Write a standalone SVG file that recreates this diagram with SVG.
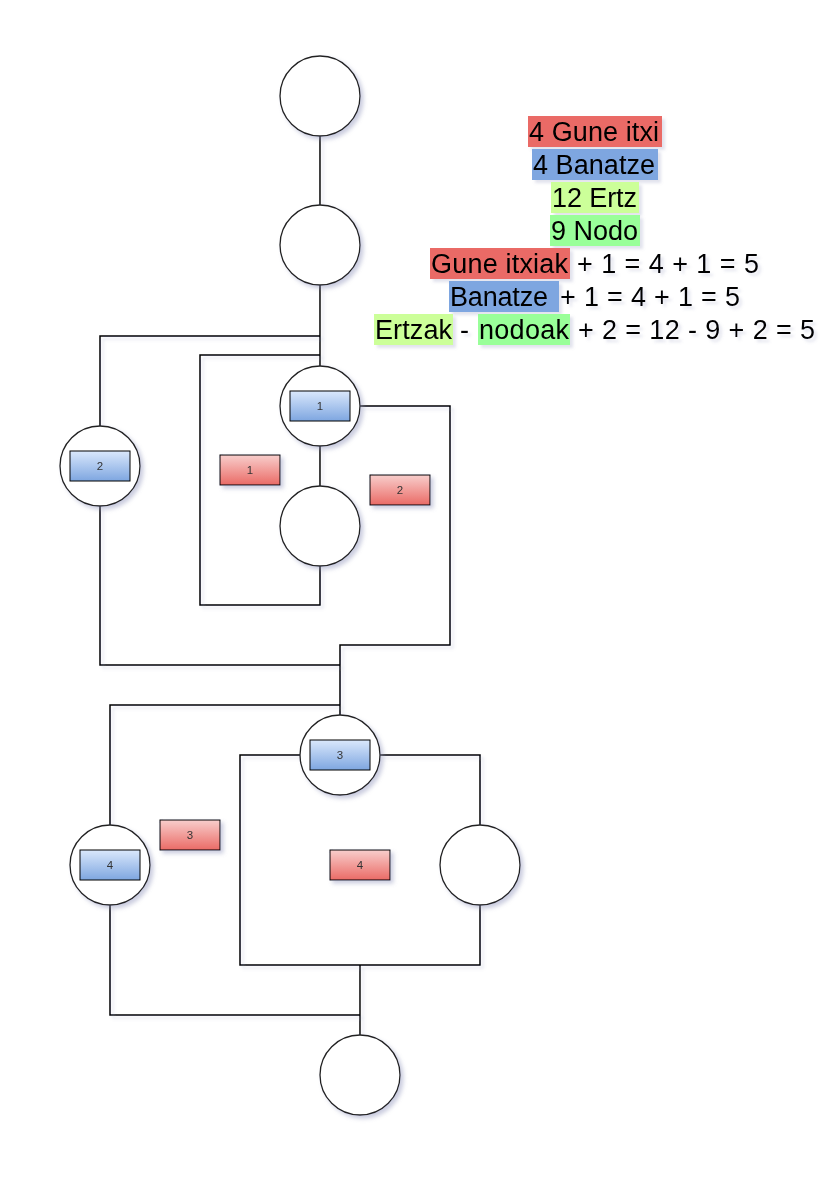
<svg xmlns="http://www.w3.org/2000/svg" width="838" height="1180" viewBox="0 0 838 1180">
<defs>
<filter id="sh" x="-20%" y="-20%" width="150%" height="150%">
<feGaussianBlur in="SourceAlpha" stdDeviation="2"/>
<feOffset dx="3" dy="3" result="b"/>
<feFlood flood-color="#8a8fb8" flood-opacity="0.45"/>
<feComposite in2="b" operator="in"/>
<feMerge><feMergeNode/><feMergeNode in="SourceGraphic"/></feMerge>
</filter>
<filter id="shl" x="-5%" y="-5%" width="110%" height="110%">
<feGaussianBlur in="SourceAlpha" stdDeviation="1.5"/>
<feOffset dx="3" dy="3" result="b"/>
<feFlood flood-color="#8a8fb8" flood-opacity="0.25"/>
<feComposite in2="b" operator="in"/>
<feMerge><feMergeNode/><feMergeNode in="SourceGraphic"/></feMerge>
</filter>
<linearGradient id="gb" x1="0" y1="0" x2="0" y2="1">
<stop offset="0" stop-color="#dae8fc"/>
<stop offset="1" stop-color="#7ea6e0"/>
</linearGradient>
<linearGradient id="gr" x1="0" y1="0" x2="0" y2="1">
<stop offset="0" stop-color="#f8cecc"/>
<stop offset="1" stop-color="#ea6b66"/>
</linearGradient>
</defs>
<style>
.c{fill:#fff;stroke:#222;stroke-width:1.3}
.bl{fill:url(#gb);stroke:#000;stroke-width:1}
.rd{fill:url(#gr);stroke:#000;stroke-width:1}
.lb{font-family:"Liberation Sans",Arial,sans-serif;font-size:11.5px;fill:#333;text-anchor:middle}
.e{fill:none;stroke:#000;stroke-width:1.5}
.t{font-family:"Liberation Sans",Arial,sans-serif;font-size:27px;fill:#000}
.hr{fill:#ea6b66}.hb{fill:#7ea6e0}.hy{fill:#ccff99}.hg{fill:#99ff99}
</style>
<rect width="838" height="1180" fill="#fff"/>
<g id="connectors" filter="url(#shl)">
<path class="e" d="M320 136V205"/>
<path class="e" d="M320 285V366"/>
<path class="e" d="M320 336H100V426"/>
<path class="e" d="M320 355H200V605H320V566"/>
<path class="e" d="M320 446V486"/>
<path class="e" d="M360 406H450V645H340V715"/>
<path class="e" d="M100 506V665H340"/>
<path class="e" d="M300 755H240V965H480V905"/>
<path class="e" d="M380 755H480V825"/>
<path class="e" d="M340 705H110V825"/>
<path class="e" d="M110 905V1015H360"/>
<path class="e" d="M360 965V1035"/>
</g>
<g id="nodeA" filter="url(#sh)"><circle class="c" cx="320" cy="96" r="40"/></g>
<g id="nodeB" filter="url(#sh)"><circle class="c" cx="320" cy="245" r="40"/></g>
<g id="node1" filter="url(#sh)"><circle class="c" cx="320" cy="406" r="40"/><rect class="bl" x="290" y="391" width="60" height="30"/><text class="lb" x="320" y="410">1</text></g>
<g id="node2" filter="url(#sh)"><circle class="c" cx="100" cy="466" r="40"/><rect class="bl" x="70" y="451" width="60" height="30"/><text class="lb" x="100" y="470">2</text></g>
<g id="nodeC" filter="url(#sh)"><circle class="c" cx="320" cy="526" r="40"/></g>
<g id="node3" filter="url(#sh)"><circle class="c" cx="340" cy="755" r="40"/><rect class="bl" x="310" y="740" width="60" height="30"/><text class="lb" x="340" y="759">3</text></g>
<g id="node4" filter="url(#sh)"><circle class="c" cx="110" cy="865" r="40"/><rect class="bl" x="80" y="850" width="60" height="30"/><text class="lb" x="110" y="869">4</text></g>
<g id="nodeD" filter="url(#sh)"><circle class="c" cx="480" cy="865" r="40"/></g>
<g id="nodeE" filter="url(#sh)"><circle class="c" cx="360" cy="1075" r="40"/></g>
<g id="region1" filter="url(#sh)"><rect class="rd" x="220" y="455" width="60" height="30"/><text class="lb" x="250" y="474">1</text></g>
<g id="region2" filter="url(#sh)"><rect class="rd" x="370" y="475" width="60" height="30"/><text class="lb" x="400" y="494">2</text></g>
<g id="region3" filter="url(#sh)"><rect class="rd" x="160" y="820" width="60" height="30"/><text class="lb" x="190" y="839">3</text></g>
<g id="region4" filter="url(#sh)"><rect class="rd" x="330" y="850" width="60" height="30"/><text class="lb" x="360" y="869">4</text></g>
<g id="summary" filter="url(#shl)">
<rect class="hr" x="528" y="116" width="134" height="31"/>
<text class="t" x="529" y="141" textLength="130" lengthAdjust="spacing">4 Gune itxi</text>
<rect class="hb" x="532" y="149" width="126" height="31"/>
<text class="t" x="533" y="174" textLength="122" lengthAdjust="spacing">4 Banatze</text>
<rect class="hy" x="551" y="182" width="88" height="31"/>
<text class="t" x="552" y="207" textLength="85" lengthAdjust="spacing">12 Ertz</text>
<rect class="hg" x="550" y="215" width="90" height="31"/>
<text class="t" x="551" y="240" textLength="87" lengthAdjust="spacing">9 Nodo</text>
<rect class="hr" x="430" y="248" width="140" height="31"/>
<text class="t" x="431" y="273" textLength="137" lengthAdjust="spacing">Gune itxiak</text>
<text class="t" x="577" y="273" textLength="182" lengthAdjust="spacing">+ 1 = 4 + 1 = 5</text>
<rect class="hb" x="449" y="281" width="110" height="31"/>
<text class="t" x="450" y="306" textLength="98" lengthAdjust="spacing">Banatze</text>
<text class="t" x="560" y="306" textLength="180" lengthAdjust="spacing">+ 1 = 4 + 1 = 5</text>
<rect class="hy" x="374" y="314" width="79" height="31"/>
<text class="t" x="375" y="339" textLength="77" lengthAdjust="spacing">Ertzak</text>
<text class="t" x="460" y="339">-</text>
<rect class="hg" x="478" y="314" width="92" height="31"/>
<text class="t" x="479" y="339" textLength="90" lengthAdjust="spacing">nodoak</text>
<text class="t" x="578" y="339" textLength="237" lengthAdjust="spacing">+ 2 = 12 - 9 + 2 = 5</text>
</g>
</svg>
